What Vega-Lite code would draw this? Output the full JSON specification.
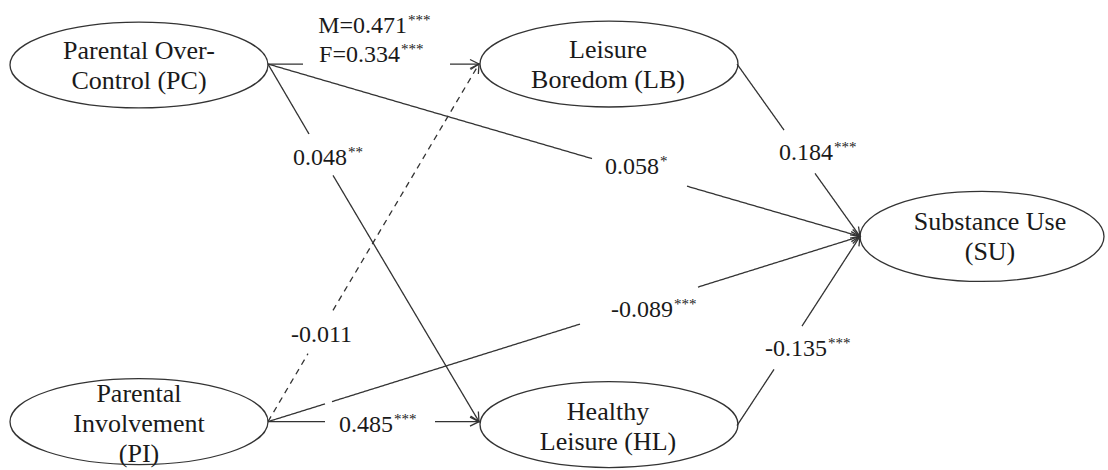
{
  "$schema": "https://vega.github.io/schema/vega-lite/v6.json",
  "width": 1108,
  "height": 470,
  "padding": 0,
  "autosize": {"type": "fit", "contains": "padding"},
  "background": "white",
  "config": {"view": {"stroke": null}},
  "datasets": {
    "segments": [
      {"edge": "PC-LB", "path": "significant", "x": 268, "y": 65, "x2": 303, "y2": 65},
      {"edge": "PC-LB", "path": "significant", "x": 450, "y": 65, "x2": 479, "y2": 65},
      {"edge": "PC-HL", "path": "significant", "x": 268, "y": 65, "x2": 309, "y2": 136},
      {"edge": "PC-HL", "path": "significant", "x": 333, "y": 178, "x2": 479, "y2": 428},
      {"edge": "PC-SU", "path": "significant", "x": 268, "y": 65, "x2": 592, "y2": 161},
      {"edge": "PC-SU", "path": "significant", "x": 687, "y": 189, "x2": 860, "y2": 240},
      {"edge": "PI-LB", "path": "non-significant", "x": 268, "y": 428, "x2": 308, "y2": 359},
      {"edge": "PI-LB", "path": "non-significant", "x": 333, "y": 315, "x2": 479, "y2": 65},
      {"edge": "PI-HL", "path": "significant", "x": 268, "y": 428, "x2": 325, "y2": 428},
      {"edge": "PI-HL", "path": "significant", "x": 435, "y": 428, "x2": 479, "y2": 428},
      {"edge": "PI-SU", "path": "significant", "x": 268, "y": 428, "x2": 325, "y2": 410},
      {"edge": "PI-SU", "path": "significant", "x": 332, "y": 407.7, "x2": 580, "y2": 329},
      {"edge": "PI-SU", "path": "significant", "x": 698, "y": 291.4, "x2": 860, "y2": 240},
      {"edge": "LB-SU", "path": "significant", "x": 737, "y": 65, "x2": 784, "y2": 132},
      {"edge": "LB-SU", "path": "significant", "x": 815, "y": 176, "x2": 860, "y2": 240},
      {"edge": "HL-SU", "path": "significant", "x": 737, "y": 432, "x2": 774, "y2": 375},
      {"edge": "HL-SU", "path": "significant", "x": 802, "y": 331, "x2": 860, "y2": 240}
    ],
    "heads": [
      {"edge": "PC-LB", "x": 479, "y": 65, "angle": 0},
      {"edge": "PC-HL", "x": 479, "y": 428, "angle": 59.8},
      {"edge": "PC-SU", "x": 860, "y": 240, "angle": 16.5},
      {"edge": "PI-LB", "x": 479, "y": 65, "angle": -59.8},
      {"edge": "PI-HL", "x": 479, "y": 428, "angle": 0},
      {"edge": "PI-SU", "x": 860, "y": 240, "angle": -17.6},
      {"edge": "LB-SU", "x": 860, "y": 240, "angle": 54.9},
      {"edge": "HL-SU", "x": 860, "y": 240, "angle": -57.4}
    ],
    "nodes": [
      {"node": "PC", "x": 139, "y": 66},
      {"node": "LB", "x": 609, "y": 65},
      {"node": "PI", "x": 139, "y": 428},
      {"node": "HL", "x": 609, "y": 431},
      {"node": "SU", "x": 982, "y": 240}
    ],
    "nodeLabels": [
      {"node": "PC", "x": 139, "y": 60, "label": "Parental Over-\nControl (PC)"},
      {"node": "LB", "x": 608, "y": 59, "label": "Leisure\nBoredom (LB)"},
      {"node": "PI", "x": 139, "y": 408, "label": "Parental\nInvolvement\n(PI)"},
      {"node": "HL", "x": 608, "y": 426, "label": "Healthy\nLeisure (HL)"},
      {"node": "SU", "x": 990, "y": 233, "label": "Substance Use\n(SU)"}
    ],
    "edgeLabels": [
      {"edge": "PC-LB (male)", "x": 407, "y": 33, "num": "M=0.471", "stars": "***"},
      {"edge": "PC-LB (female)", "x": 400, "y": 63, "num": "F=0.334", "stars": "***"},
      {"edge": "PC-HL", "x": 347, "y": 167, "num": "0.048", "stars": "**"},
      {"edge": "PC-SU", "x": 659, "y": 177, "num": "0.058", "stars": "*"},
      {"edge": "LB-SU", "x": 833, "y": 162, "num": "0.184", "stars": "***"},
      {"edge": "PI-SU", "x": 673, "y": 322, "num": "-0.089", "stars": "***"},
      {"edge": "HL-SU", "x": 827, "y": 361, "num": "-0.135", "stars": "***"},
      {"edge": "PI-LB", "x": 352, "y": 347, "num": "-0.011", "stars": ""},
      {"edge": "PI-HL", "x": 393, "y": 439, "num": "0.485", "stars": "***"}
    ]
  },
  "encoding": {
    "x": {"field": "x", "type": "quantitative", "scale": {"domain": [0, 1108], "nice": false, "zero": false}, "axis": null},
    "y": {"field": "y", "type": "quantitative", "scale": {"domain": [0, 470], "nice": false, "zero": false, "reverse": true}, "axis": null}
  },
  "layer": [
    {
      "data": {"name": "segments"},
      "mark": {"type": "rule", "strokeWidth": 1.3, "color": "#333333"},
      "encoding": {
        "x2": {"field": "x2"},
        "y2": {"field": "y2"},
        "strokeDash": {"field": "path", "type": "nominal", "scale": {"domain": ["significant", "non-significant"], "range": [[1, 0], [6, 5]]}, "legend": null}
      }
    },
    {
      "data": {"name": "heads"},
      "mark": {"type": "point", "shape": "M -1 -0.5 L 0 0 L -1 0.5", "size": 324, "filled": false, "stroke": "#333333", "strokeWidth": 1.3, "opacity": 1},
      "encoding": {
        "angle": {"field": "angle", "type": "quantitative", "scale": null}
      }
    },
    {
      "data": {"name": "nodes"},
      "transform": [{"filter": {"field": "node", "oneOf": ["PC", "LB", "PI", "HL"]}}],
      "mark": {"type": "point", "shape": "M -1 0 C -1 -0.184 -0.552 -0.333 0 -0.333 C 0.552 -0.333 1 -0.184 1 0 C 1 0.184 0.552 0.333 0 0.333 C -0.552 0.333 -1 0.184 -1 0 Z", "size": 66564, "filled": false, "stroke": "#333333", "strokeWidth": 1.3, "opacity": 1}
    },
    {
      "data": {"name": "nodes"},
      "transform": [{"filter": {"field": "node", "oneOf": ["SU"]}}],
      "mark": {"type": "point", "shape": "M -1 0 C -1 -0.204 -0.552 -0.369 0 -0.369 C 0.552 -0.369 1 -0.204 1 0 C 1 0.204 0.552 0.369 0 0.369 C -0.552 0.369 -1 0.204 -1 0 Z", "size": 59536, "filled": false, "stroke": "#333333", "strokeWidth": 1.3, "opacity": 1}
    },
    {
      "data": {"name": "nodeLabels"},
      "mark": {"type": "text", "font": "Liberation Serif", "fontSize": 26, "align": "center", "baseline": "alphabetic", "lineBreak": "\n", "lineHeight": 30, "color": "#1a1a1a"},
      "encoding": {"text": {"field": "label", "type": "nominal"}}
    },
    {
      "data": {"name": "edgeLabels"},
      "mark": {"type": "text", "font": "Liberation Serif", "fontSize": 24, "align": "right", "baseline": "alphabetic", "color": "#1a1a1a"},
      "encoding": {"text": {"field": "num", "type": "nominal"}}
    },
    {
      "data": {"name": "edgeLabels"},
      "mark": {"type": "text", "font": "Liberation Serif", "fontSize": 15, "align": "left", "baseline": "alphabetic", "dx": 1, "dy": -8, "color": "#1a1a1a"},
      "encoding": {"text": {"field": "stars", "type": "nominal"}}
    }
  ]
}
